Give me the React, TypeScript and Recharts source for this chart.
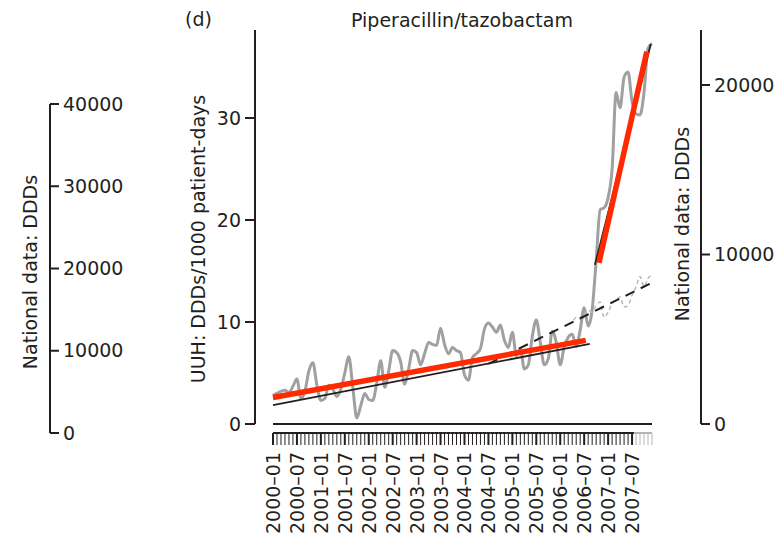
import React from 'react';
import { ComposedChart, Line, XAxis, YAxis, ReferenceLine } from 'recharts';

const FONT = '"DejaVu Sans", sans-serif';
const INK = '#231f20';

// ---- categories ----
const years = ['2000', '2001', '2002', '2003', '2004', '2005', '2006', '2007'];
const monthNums = ['01', '02', '03', '04', '05', '06', '07', '08', '09', '10', '11', '12'];
const months: string[] = years.flatMap((y) => monthNums.map((mm) => `${y}–${mm}`));

// ---- UUH monthly DDDs/1000 patient-days (2000-01 .. 2007-12) ----
const uuh = [
  2.8, 3.0, 3.2, 3.3, 3.1, 3.7, 4.4, 2.5, 3.2, 5.2, 6.0, 3.8,
  2.3, 2.5, 3.8, 3.4, 2.7, 3.4, 5.0, 6.6, 3.6, 0.6, 1.8, 3.0,
  2.4, 2.3, 4.0, 6.2, 3.6, 5.2, 7.2, 7.0, 6.1, 3.9, 5.4, 7.2,
  7.0, 5.8, 6.9, 8.0, 7.8, 7.7, 9.4, 7.8, 6.9, 7.5, 7.2, 7.0,
  4.8, 4.3, 6.5, 6.9, 7.4, 9.3, 9.9, 9.5, 9.0, 9.7, 8.2, 7.5,
  9.0, 6.7, 7.4, 5.4, 5.8, 8.6, 10.2, 8.0, 5.8, 6.4, 9.1, 8.0,
  5.8, 7.6, 8.5, 8.8, 7.6, 9.2, 11.4, 9.6, 11.2, 16.0, 21.0, 21.2,
  22.2, 25.0, 32.5, 31.0, 34.0, 34.5, 31.6, 30.4, 30.3, 32.5, 36.8, 37.3,
];

// ---- National data (DDDs), shown from 2006-03 ----
const nationalStart = 74;
const nationalDDDs = [
  5900, 6000, 6300, 6200, 6500, 6700, 6600, 7000, 7200, 6300, 6600,
  7100, 7300, 7500, 6900, 7000, 7600, 8100, 8700, 8100, 8600, 8800,
];

// ---- fitted segments (month index, value) ----
const uuhFitBefore = [{ m: 0, v: 1.85 }, { m: 79.4, v: 7.85 }];
const uuhFitAfter = [{ m: 80.7, v: 15.6 }, { m: 94.7, v: 37.25 }];
const segRegBefore = [{ m: 0, v: 2.6 }, { m: 78.4, v: 8.2 }];
const segRegAfter = [{ m: 81.7, v: 15.8 }, { m: 93.7, v: 36.5 }];
const nationalTrend = [{ m: 54, v: 5.9 }, { m: 94.7, v: 13.8 }];
const interventionMonth = 80.8;

// ---- ticks ----
const leftTicks = [0, 10, 20, 30];
const rightTicks = [0, 10000, 20000];
const orphanTicks = [0, 10000, 20000, 30000, 40000];

const rows = months.map((label, i) => ({
  m: i,
  label,
  uuh: uuh[i],
  national: i >= nationalStart ? nationalDDDs[i - nationalStart] : null,
}));
const monthTicks = rows.map((r) => r.m);

function MonthTick(props: any) {
  const { x, y, payload } = props;
  const i = payload.value as number;
  const major = i % 6 === 0;
  const faded = i > 90;
  const col = faded ? '#b4b4b4' : INK;
  const top = y + 9;
  const bot = y + 21;
  const half = 2.1;
  return (
    <g>
      <line x1={i === 0 ? x : x - half} x2={i === 95 ? x : x + half} y1={top} y2={top} stroke={col} strokeWidth={2} />
      <line x1={x} x2={x} y1={top} y2={bot} stroke={col} strokeWidth={major ? 2 : 1} />
      {major && (
        <text
          x={0}
          y={0}
          transform={`translate(${x + 7},${y + 28}) rotate(-90)`}
          textAnchor="end"
          fontFamily={FONT}
          fontSize={19}
          fill={INK}
        >
          {months[i]}
        </text>
      )}
    </g>
  );
}

const tickStyle = { fontSize: 19, fill: INK, fontFamily: FONT };

export default function App() {
  return (
    <div style={{ position: 'absolute', left: 0, top: 0, width: 783, height: 541, background: '#fff' }}>
      {/* orphan national axis on the far left */}
      <div style={{ position: 'absolute', left: 0, top: 0 }}>
        <ComposedChart width={140} height={541} data={rows} margin={{ top: 104, bottom: 108, left: 40, right: 0 }}>
          <XAxis hide dataKey="m" type="number" domain={[0, 95]} allowDataOverflow />
          <YAxis
            yAxisId="orphan"
            type="number"
            orientation="right"
            width={90}
            domain={[0, 40000]}
            allowDataOverflow
            ticks={orphanTicks}
            interval={0}
            tickSize={9}
            tickMargin={4}
            axisLine={{ stroke: INK, strokeWidth: 2 }}
            tickLine={{ stroke: INK, strokeWidth: 2 }}
            tick={{ ...tickStyle, textAnchor: 'start' }}
            label={() => (
              <text transform="translate(37,272) rotate(-90)" textAnchor="middle" fontFamily={FONT} fontSize={19} fill={INK}>
                National data: DDDs
              </text>
            )}
          />
        </ComposedChart>
      </div>

      {/* main chart */}
      <div style={{ position: 'absolute', left: 0, top: 0 }}>
        <ComposedChart width={783} height={541} data={rows} margin={{ top: 30, bottom: 0, left: 180, right: 0 }}>
          <XAxis
            dataKey="m"
            type="number"
            domain={[0, 95]}
            ticks={monthTicks}
            interval={0}
            height={117}
            padding={{ left: 18, right: 49 }}
            axisLine={false}
            tickLine={false}
            tickSize={0}
            tickMargin={0}
            tick={<MonthTick />}
          />
          <YAxis
            yAxisId="uuh"
            orientation="left"
            width={75}
            domain={[0, 38.63]}
            ticks={leftTicks}
            interval={0}
            tickSize={10}
            tickMargin={4}
            axisLine={{ stroke: INK, strokeWidth: 2 }}
            tickLine={{ stroke: INK, strokeWidth: 2 }}
            tick={tickStyle}
            label={() => (
              <text transform="translate(205,239) rotate(-90)" textAnchor="middle" fontFamily={FONT} fontSize={19} fill={INK}>
                UUH: DDDs/1000 patient-days
              </text>
            )}
          />
          <YAxis
            yAxisId="nat"
            orientation="right"
            width={82}
            domain={[0, 23245]}
            ticks={rightTicks}
            interval={0}
            tickSize={9}
            tickMargin={4}
            axisLine={{ stroke: INK, strokeWidth: 2 }}
            tickLine={{ stroke: INK, strokeWidth: 2 }}
            tick={tickStyle}
            label={() => (
              <text transform="translate(689,224) rotate(-90)" textAnchor="middle" fontFamily={FONT} fontSize={19} fill={INK}>
                National data: DDDs
              </text>
            )}
          />

          <ReferenceLine
            yAxisId="uuh"
            segment={[{ x: 0, y: 0 }, { x: 95, y: 0 }]}
            stroke={INK}
            strokeWidth={2}
          />
          <ReferenceLine
            yAxisId="uuh"
            segment={[{ x: interventionMonth, y: -0.1 }, { x: interventionMonth, y: 37.3 }]}
            stroke="#9c9c9c"
            strokeWidth={2}
          />

          <Line
            yAxisId="uuh"
            dataKey="uuh"
            type="monotone"
            stroke="#a0a0a0"
            strokeWidth={3}
            dot={false}
            isAnimationActive={false}
          />
          <Line
            yAxisId="nat"
            dataKey="national"
            type="monotone"
            stroke="#b8b8b8"
            strokeWidth={1.5}
            strokeDasharray="4 3"
            dot={false}
            isAnimationActive={false}
          />
          <Line
            yAxisId="uuh"
            data={nationalTrend}
            dataKey="v"
            type="linear"
            stroke={INK}
            strokeWidth={2}
            strokeDasharray="10 7"
            dot={false}
            isAnimationActive={false}
          />
          <Line yAxisId="uuh" data={uuhFitBefore} dataKey="v" type="linear" stroke={INK} strokeWidth={1.8} dot={false} isAnimationActive={false} />
          <Line yAxisId="uuh" data={uuhFitAfter} dataKey="v" type="linear" stroke={INK} strokeWidth={1.8} dot={false} isAnimationActive={false} />
          <Line yAxisId="uuh" data={segRegBefore} dataKey="v" type="linear" stroke="#ff2a00" strokeWidth={5.5} dot={false} isAnimationActive={false} />
          <Line yAxisId="uuh" data={segRegAfter} dataKey="v" type="linear" stroke="#ff2a00" strokeWidth={5.5} dot={false} isAnimationActive={false} />
        </ComposedChart>
      </div>

      {/* titles */}
      <svg width={783} height={541} style={{ position: 'absolute', left: 0, top: 0, pointerEvents: 'none' }}>
        <text x={185} y={25.5} fontFamily={FONT} fontSize={19} fill={INK}>(d)</text>
        <text x={462} y={27} textAnchor="middle" fontFamily={FONT} fontSize={19} fill={INK}>Piperacillin/tazobactam</text>
      </svg>
    </div>
  );
}
